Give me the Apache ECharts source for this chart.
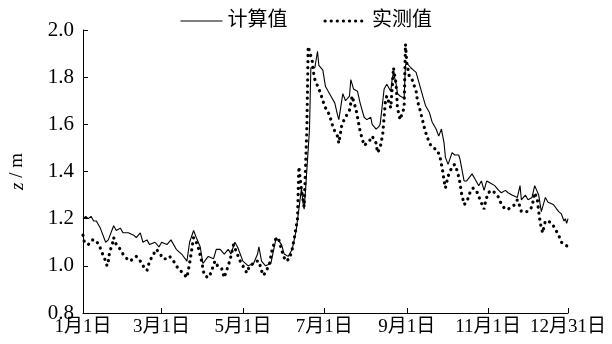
<!DOCTYPE html>
<html>
<head>
<meta charset="utf-8">
<script src="https://cdn.jsdelivr.net/npm/echarts@6/dist/echarts.min.js"></script>
<style>
  html, body { margin: 0; padding: 0; background: #fff; }
  #chart { width: 612px; height: 344px; }
</style>
</head>
<body>
<div id="chart"></div>
<script>
// Day-of-year positions of the date ticks and their labels
const tickDays = [0, 59, 120, 181, 243, 304, 364];
const tickLabels = ['1月1日', '3月1日', '5月1日', '7月1日', '9月1日', '11月1日', '12月31日'];

// Computed water level (m), by day of year
const calcDays = [0, 2, 4, 6, 8, 10, 13, 17, 19, 23, 25, 28, 30, 34, 38, 40, 43, 45, 48, 50, 54, 57, 59, 63, 66, 70, 74, 78, 80, 83, 85, 88, 90, 94, 98, 100, 103, 106, 109, 111, 114, 116, 120, 124, 128, 131, 132, 134, 137, 141, 145, 149, 151, 154, 157, 160, 162, 164, 165, 166, 167, 170, 171, 174, 176, 177, 180, 182, 186, 189, 191, 192, 195, 197, 200, 201, 203, 206, 208, 211, 213, 216, 217, 220, 222, 223, 226, 228, 230, 231, 232, 233, 235, 236, 238, 241, 242, 243, 246, 248, 250, 252, 255, 257, 260, 262, 265, 267, 269, 271, 272, 274, 277, 279, 282, 283, 286, 288, 292, 294, 297, 299, 301, 303, 306, 309, 312, 314, 317, 319, 322, 326, 328, 329, 332, 334, 337, 339, 342, 344, 347, 349, 353, 357, 359, 361, 362, 363, 364];
const calcLevels = [1.20, 1.21, 1.20, 1.21, 1.19, 1.19, 1.16, 1.10, 1.11, 1.17, 1.15, 1.16, 1.14, 1.14, 1.13, 1.12, 1.14, 1.10, 1.11, 1.09, 1.10, 1.08, 1.10, 1.09, 1.11, 1.07, 1.05, 1.02, 1.10, 1.15, 1.12, 1.08, 1.01, 1.04, 1.03, 1.07, 1.07, 1.05, 1.07, 1.05, 1.10, 1.08, 1.02, 1.00, 1.01, 1.05, 1.08, 1.02, 1.00, 1.01, 1.12, 1.09, 1.05, 1.04, 1.07, 1.15, 1.24, 1.33, 1.27, 1.24, 1.32, 1.58, 1.84, 1.84, 1.91, 1.85, 1.83, 1.76, 1.72, 1.69, 1.64, 1.62, 1.73, 1.70, 1.72, 1.79, 1.75, 1.74, 1.69, 1.63, 1.62, 1.63, 1.60, 1.58, 1.59, 1.60, 1.75, 1.77, 1.75, 1.74, 1.79, 1.82, 1.77, 1.73, 1.72, 1.71, 1.85, 1.86, 1.84, 1.83, 1.82, 1.78, 1.72, 1.68, 1.65, 1.61, 1.58, 1.55, 1.58, 1.52, 1.46, 1.43, 1.48, 1.47, 1.47, 1.45, 1.36, 1.36, 1.39, 1.37, 1.34, 1.36, 1.32, 1.36, 1.35, 1.34, 1.32, 1.31, 1.32, 1.31, 1.30, 1.29, 1.34, 1.28, 1.30, 1.28, 1.29, 1.34, 1.30, 1.23, 1.29, 1.27, 1.26, 1.23, 1.22, 1.19, 1.20, 1.18, 1.20];

// Measured water level (m), by day of year
const measDays = [0, 1, 4, 7, 9, 12, 14, 17, 18, 19, 20, 22, 23, 25, 28, 30, 33, 35, 38, 40, 43, 45, 48, 50, 53, 55, 58, 60, 63, 65, 68, 70, 73, 75, 78, 80, 83, 84, 86, 89, 91, 94, 96, 99, 101, 104, 106, 109, 111, 113, 115, 118, 120, 123, 125, 128, 130, 132, 135, 137, 140, 142, 145, 147, 150, 152, 155, 157, 159, 161, 162, 164, 166, 168, 169, 172, 173, 174, 177, 179, 180, 182, 185, 187, 189, 191, 192, 194, 196, 199, 200, 202, 205, 206, 208, 211, 215, 217, 220, 221, 223, 225, 227, 228, 231, 232, 233, 235, 236, 238, 241, 242, 243, 245, 247, 250, 251, 253, 256, 258, 261, 263, 266, 268, 270, 271, 272, 274, 277, 279, 281, 283, 284, 286, 288, 291, 293, 296, 298, 301, 302, 304, 307, 309, 312, 314, 317, 319, 322, 324, 326, 328, 329, 332, 334, 337, 338, 339, 341, 342, 343, 344, 345, 347, 349, 352, 354, 357, 359, 362, 364];
const measLevels = [1.13, 1.10, 1.09, 1.11, 1.11, 1.09, 1.06, 1.02, 1.00, 1.02, 1.06, 1.09, 1.12, 1.09, 1.07, 1.05, 1.03, 1.02, 1.03, 1.04, 1.02, 1.00, 0.98, 1.02, 1.05, 1.07, 1.05, 1.03, 1.03, 1.04, 1.02, 1.00, 0.98, 0.97, 0.95, 1.01, 1.12, 1.12, 1.09, 1.02, 0.96, 0.95, 0.97, 1.02, 1.00, 0.99, 0.95, 1.00, 1.04, 1.09, 1.06, 1.02, 1.00, 0.97, 1.00, 1.01, 1.02, 1.02, 0.96, 0.97, 1.01, 1.07, 1.12, 1.11, 1.05, 1.02, 1.03, 1.07, 1.13, 1.20, 1.42, 1.32, 1.25, 1.58, 1.93, 1.87, 1.82, 1.79, 1.75, 1.72, 1.70, 1.67, 1.64, 1.60, 1.57, 1.55, 1.52, 1.59, 1.62, 1.65, 1.66, 1.72, 1.66, 1.63, 1.57, 1.51, 1.53, 1.55, 1.52, 1.48, 1.50, 1.56, 1.70, 1.72, 1.67, 1.75, 1.84, 1.77, 1.67, 1.62, 1.67, 1.94, 1.86, 1.80, 1.79, 1.74, 1.70, 1.66, 1.59, 1.55, 1.51, 1.50, 1.49, 1.46, 1.40, 1.36, 1.33, 1.38, 1.42, 1.43, 1.40, 1.35, 1.31, 1.26, 1.27, 1.32, 1.33, 1.31, 1.28, 1.24, 1.27, 1.31, 1.32, 1.31, 1.29, 1.26, 1.24, 1.24, 1.25, 1.26, 1.28, 1.25, 1.23, 1.23, 1.23, 1.25, 1.28, 1.31, 1.28, 1.23, 1.19, 1.16, 1.14, 1.19, 1.19, 1.18, 1.16, 1.13, 1.10, 1.09, 1.08];

const seriesNames = ['计算值', '实测值'];
const yTicks = { min: 0.8, max: 2.0, step: 0.2 };

const FONT = '"Liberation Serif", "Noto Sans CJK SC", serif';

// Line styles shared by each series and its legend key
const calcStroke = { color: '#000', width: 1.1 };
const measStroke = { color: '#000', width: 3.2, type: [0.1, 6], cap: 'round' };

const pairs = (days, vals) => days.map((d, i) => [d, vals[i]]);

const chart = echarts.init(document.getElementById('chart'), null, { renderer: 'canvas' });

chart.setOption({
  animation: false,
  backgroundColor: '#fff',
  textStyle: { fontFamily: FONT, color: '#000' },
  legend: {
    top: 6,
    left: 'center',
    itemWidth: 42,
    itemHeight: 12,
    itemGap: 36,
    // line-only keys: the point marker of each key is hidden
    itemStyle: { opacity: 0 },
    textStyle: { fontFamily: FONT, fontSize: 20, color: '#000' },
    data: [
      { name: seriesNames[0], lineStyle: calcStroke },
      { name: seriesNames[1], lineStyle: measStroke }
    ]
  },
  grid: { left: 81, right: 44, top: 30, bottom: 31, containLabel: false },
  xAxis: {
    type: 'value',
    min: tickDays[0],
    max: tickDays[tickDays.length - 1],
    splitLine: { show: false },
    axisLine: { lineStyle: { color: '#000', width: 1 } },
    axisTick: { inside: true, length: 5, lineStyle: { color: '#000' }, customValues: tickDays },
    axisLabel: {
      customValues: tickDays,
      margin: 5,
      fontFamily: FONT,
      fontSize: 19,
      color: '#000',
      formatter: v => tickLabels[tickDays.indexOf(v)] || ''
    }
  },
  yAxis: {
    type: 'value',
    min: yTicks.min,
    max: yTicks.max,
    interval: yTicks.step,
    name: '{i|z} / m',
    nameLocation: 'middle',
    nameRotate: 90,
    nameGap: 56,
    nameTextStyle: {
      fontFamily: FONT, fontSize: 19, color: '#000',
      rich: { i: { fontFamily: FONT, fontSize: 19, fontStyle: 'italic', color: '#000' } }
    },
    splitLine: { show: false },
    axisLine: { show: true, lineStyle: { color: '#000', width: 1 } },
    axisTick: { show: true, inside: true, length: 5, lineStyle: { color: '#000' } },
    axisLabel: {
      margin: 9,
      fontFamily: FONT,
      fontSize: 21,
      color: '#000',
      formatter: v => v.toFixed(1)
    }
  },
  series: [
    {
      name: seriesNames[0],
      type: 'line',
      data: pairs(calcDays, calcLevels),
      showSymbol: false,
      symbol: 'none',
      lineStyle: calcStroke,
      itemStyle: { color: '#000' },
      z: 2
    },
    {
      name: seriesNames[1],
      type: 'line',
      data: pairs(measDays, measLevels),
      showSymbol: false,
      symbol: 'none',
      lineStyle: measStroke,
      itemStyle: { color: '#000' },
      z: 3
    }
  ]
});
</script>
</body>
</html>
